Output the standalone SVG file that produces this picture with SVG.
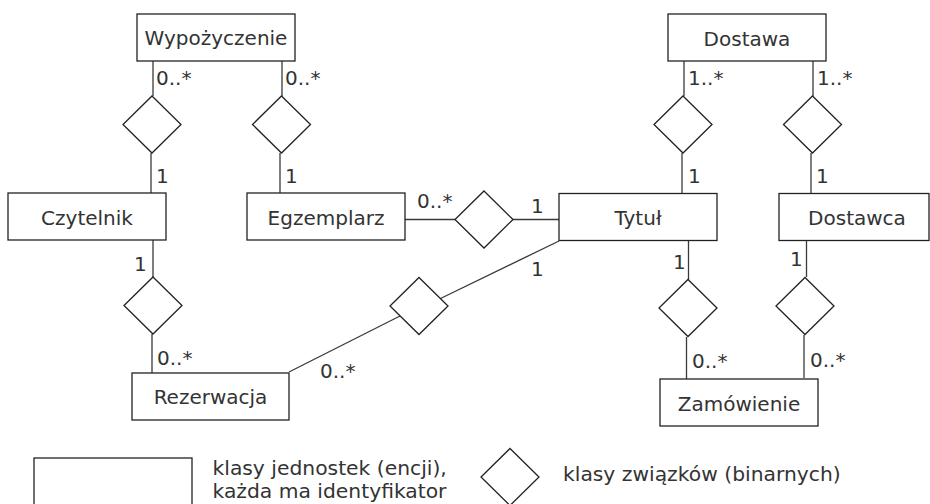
<svg xmlns="http://www.w3.org/2000/svg" width="930" height="504" viewBox="0 0 930 504">
  <style>
    .box { fill: #ffffff; stroke: #222222; stroke-width: 1.3; }
    .rel { fill: #ffffff; stroke: #222222; stroke-width: 1.3; }
    .line { fill: none; stroke: #3a3a3a; stroke-width: 1.3; }
    text { font-family: "DejaVu Sans", "Liberation Sans", sans-serif; font-size: 20px; fill: #333333; }
    .name { text-anchor: middle; }
    .legend { font-size: 20.3px; }
  </style>
  <defs>
    <polygon id="diamond" class="rel" points="0,-28.5 29,0 0,28.5 -29,0"/>
  </defs>
  <rect width="930" height="504" fill="#ffffff"/>

  <!-- connectors between entity classes and relationship diamonds -->
  <g id="connectors">
    <line class="line" x1="153" y1="61" x2="153" y2="96"/>
    <line class="line" x1="151" y1="153" x2="151" y2="193"/>
    <line class="line" x1="282" y1="61" x2="282" y2="96"/>
    <line class="line" x1="280" y1="153" x2="280" y2="193"/>
    <line class="line" x1="684" y1="61" x2="684" y2="96"/>
    <line class="line" x1="682" y1="153" x2="682" y2="193"/>
    <line class="line" x1="813" y1="61" x2="813" y2="96"/>
    <line class="line" x1="811" y1="153" x2="811" y2="193"/>
    <line class="line" x1="153" y1="240" x2="153" y2="277"/>
    <line class="line" x1="152" y1="334" x2="152" y2="373"/>
    <line class="line" x1="405" y1="219.5" x2="455" y2="219.5"/>
    <line class="line" x1="513" y1="219.5" x2="559" y2="219.5"/>
    <line class="line" x1="289" y1="372" x2="400" y2="316"/>
    <line class="line" x1="439.5" y1="299" x2="559" y2="241"/>
    <line class="line" x1="688.5" y1="241" x2="688.5" y2="280"/>
    <line class="line" x1="686.5" y1="337" x2="686.5" y2="379"/>
    <line class="line" x1="806.5" y1="238" x2="806.5" y2="277"/>
    <line class="line" x1="804" y1="335" x2="804" y2="378"/>
  </g>

  <!-- relationship classes -->
  <g id="rel-wyp-czytelnik"><use href="#diamond" x="152" y="124.5"/></g>
  <g id="rel-wyp-egzemplarz"><use href="#diamond" x="281.5" y="124.5"/></g>
  <g id="rel-dostawa-tytul"><use href="#diamond" x="683" y="124.5"/></g>
  <g id="rel-dostawa-dostawca"><use href="#diamond" x="812.5" y="124.5"/></g>
  <g id="rel-czytelnik-rezerwacja"><use href="#diamond" x="153" y="305.5"/></g>
  <g id="rel-egzemplarz-tytul"><use href="#diamond" x="484" y="219.5"/></g>
  <g id="rel-rezerwacja-tytul"><use href="#diamond" x="419" y="306"/></g>
  <g id="rel-tytul-zamowienie"><use href="#diamond" x="688" y="308"/></g>
  <g id="rel-dostawca-zamowienie"><use href="#diamond" x="805" y="306"/></g>

  <!-- entity classes -->
  <g id="wypozyczenie">
    <rect class="box" x="137" y="14" width="158" height="47"/>
    <text class="name" x="216" y="45">Wypożyczenie</text>
  </g>
  <g id="dostawa">
    <rect class="box" x="668" y="14" width="158" height="47"/>
    <text class="name" x="747" y="46">Dostawa</text>
  </g>
  <g id="czytelnik">
    <rect class="box" x="8" y="193" width="158" height="47"/>
    <text class="name" x="87" y="225">Czytelnik</text>
  </g>
  <g id="egzemplarz">
    <rect class="box" x="247" y="193" width="158" height="47"/>
    <text class="name" x="326" y="225">Egzemplarz</text>
  </g>
  <g id="tytul">
    <rect class="box" x="559" y="193.5" width="158" height="47"/>
    <text class="name" x="638" y="225">Tytuł</text>
  </g>
  <g id="dostawca">
    <rect class="box" x="779" y="193.5" width="150" height="47"/>
    <text class="name" x="857" y="225">Dostawca</text>
  </g>
  <g id="rezerwacja">
    <rect class="box" x="132" y="373" width="157" height="47"/>
    <text class="name" x="210.5" y="404">Rezerwacja</text>
  </g>
  <g id="zamowienie">
    <rect class="box" x="660" y="379" width="158" height="47"/>
    <text class="name" x="739" y="411">Zamówienie</text>
  </g>

  <!-- multiplicities -->
  <g id="multiplicities">
    <text x="156" y="85">0..*</text>
    <text x="285" y="85">0..*</text>
    <text x="156" y="183">1</text>
    <text x="285" y="183">1</text>
    <text x="688" y="85">1..*</text>
    <text x="817" y="85">1..*</text>
    <text x="688" y="183">1</text>
    <text x="816" y="183">1</text>
    <text x="134" y="271">1</text>
    <text x="157" y="365">0..*</text>
    <text x="320" y="378">0..*</text>
    <text x="417" y="208">0..*</text>
    <text x="531" y="213">1</text>
    <text x="531" y="276">1</text>
    <text x="673" y="269">1</text>
    <text x="692" y="368">0..*</text>
    <text x="790" y="266">1</text>
    <text x="810" y="367">0..*</text>
  </g>

  <!-- legend -->
  <g id="legend">
    <rect class="box" x="34" y="458" width="158" height="60"/>
    <text class="legend" x="212.5" y="475">klasy jednostek (encji),</text>
    <text class="legend" x="212.5" y="498">każda ma identyfikator</text>
    <use href="#diamond" x="510" y="477"/>
    <text class="legend" x="563" y="481">klasy związków (binarnych)</text>
  </g>
</svg>
